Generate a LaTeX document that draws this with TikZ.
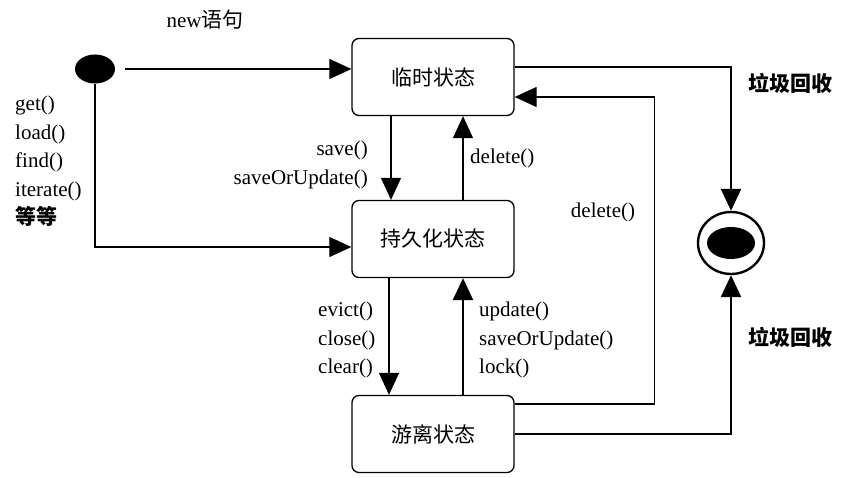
\documentclass[tikz,border=0pt]{standalone}
\usepackage{fontspec}
\setmainfont{Liberation Serif}
\newfontfamily\cjk{Noto Sans CJK SC}
\usetikzlibrary{arrows.meta,shapes.geometric}
\begin{document}
\begin{tikzpicture}[x=1pt, y=-1pt,
		state/.style = {draw, line width=1.3pt, rounded corners=7pt, minimum width=162pt, minimum height=77pt, font=\cjk\fontsize{21}{21}\selectfont},
		flow/.style = {line width=1.2pt, -{Triangle[length=22pt,width=20pt]}},
		heavy/.style = {flow, line width=2.4pt},
		lbl/.style = {inner sep=0pt, font=\fontsize{21}{28.5}\selectfont},
	]
	\useasboundingbox (0,0) rectangle (849,478);
	% states
	\node[fill, ellipse, minimum width=40pt, minimum height=29pt, inner sep=0pt] (init) at (95,69) {};
	\node[state] (transient) at (433,77) {临时状态};
	\node[state] (persistent) at (433,239) {持久化状态};
	\node[state] (detached) at (433,434) {游离状态};
	\node[draw, ellipse, line width=2.4pt, minimum width=66pt, minimum height=62pt] (final) at (731,243) {};
	\fill (final.center) ellipse (24pt and 16pt);
	% transitions
	\draw[flow, shorten <=10pt] (init) -- (init -| transient.west);
	\draw[flow] (init) |- ([yshift=-8pt]persistent.west);
	\draw[heavy] ([yshift=10pt]transient.east) -| (final);
	\draw[flow] ([xshift=-42pt]transient.south) -- ([xshift=-42pt]persistent.north);
	\draw[flow] ([xshift=30pt]persistent.north) -- ([xshift=30pt]transient.south);
	\draw[flow] ([xshift=-44pt]persistent.south) -- ([xshift=-44pt]detached.north);
	\draw[heavy] ([xshift=30pt]detached.north) -- ([xshift=30pt]persistent.south);
	\draw[flow] ([yshift=30pt]detached.east) -- ++(140,0) |- ([yshift=-20pt]transient.east);
	\draw[heavy] (detached.east) -| (final);
	% labels
	\node[lbl] (newlbl) at (205,20) {new{\cjk 语句}};
	\node[lbl, anchor=north west, align=left] (loadlbl) at (15,96) {get()\\load()\\find()\\iterate()\\{\cjk\bfseries 等等}};
	\node[lbl, anchor=north east, align=right] (savelbl) at (368,141) {save()\\saveOrUpdate()};
	\node[lbl, anchor=west] (dellbl) at (470,158) {delete()};
	\node[lbl] (dellbl2) at (603,212) {delete()};
	\node[lbl, anchor=north west, align=left] (evictlbl) at (318,302) {evict()\\close()\\clear()};
	\node[lbl, anchor=north west, align=left] (updlbl) at (479,302) {update()\\saveOrUpdate()\\lock()};
	\node[lbl, font=\cjk\bfseries\fontsize{21}{21}\selectfont] (gclbl) at (790,83) {垃圾回收};
	\node[lbl, font=\cjk\bfseries\fontsize{21}{21}\selectfont] (gclbl2) at (790,337) {垃圾回收};
\end{tikzpicture}
\end{document}
